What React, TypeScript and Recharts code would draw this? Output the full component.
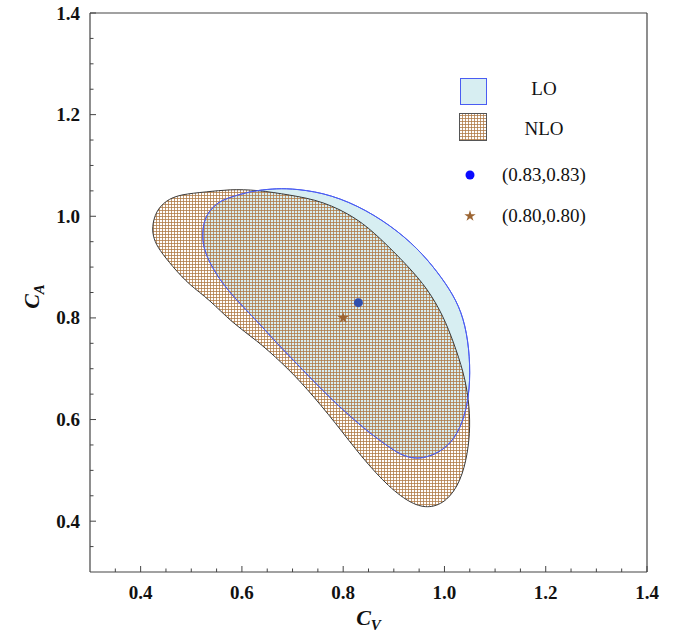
import React from 'react';
import { ComposedChart, Scatter, XAxis, YAxis, Legend, Label, Symbols } from 'recharts';

// LO allowed region (C_V, C_A), traced clockwise from the left edge
const loCv = [0.522, 0.525, 0.535, 0.551, 0.571, 0.62, 0.661, 0.694, 0.76, 0.828, 0.894, 0.947, 0.986, 1.018, 1.038, 1.049, 1.051, 1.044, 1.027, 0.999, 0.955, 0.92, 0.891, 0.837, 0.772, 0.719, 0.668, 0.628, 0.589, 0.555, 0.533, 0.524];
const loCa = [0.965, 0.99, 1.01, 1.026, 1.036, 1.05, 1.054, 1.055, 1.047, 1.022, 0.982, 0.937, 0.891, 0.845, 0.8, 0.74, 0.675, 0.62, 0.572, 0.539, 0.521, 0.527, 0.545, 0.585, 0.644, 0.699, 0.751, 0.796, 0.835, 0.876, 0.915, 0.94];

// NLO allowed region
const nloCv = [0.422, 0.43, 0.45, 0.477, 0.531, 0.576, 0.629, 0.694, 0.76, 0.828, 0.873, 0.927, 0.967, 0.998, 1.018, 1.038, 1.048, 1.051, 1.046, 1.032, 1.005, 0.971, 0.936, 0.891, 0.837, 0.786, 0.727, 0.68, 0.628, 0.581, 0.536, 0.496, 0.463, 0.436, 0.426];
const nloCa = [0.978, 1.01, 1.031, 1.043, 1.048, 1.053, 1.052, 1.042, 1.03, 0.996, 0.957, 0.903, 0.857, 0.803, 0.752, 0.693, 0.639, 0.586, 0.533, 0.478, 0.439, 0.425, 0.433, 0.466, 0.525, 0.592, 0.663, 0.711, 0.757, 0.79, 0.836, 0.865, 0.901, 0.935, 0.955];

const loBest = [{ x: 0.83, y: 0.83 }];
const nloBest = [{ x: 0.8, y: 0.8 }];

const axisTicks = [0.35, 0.4, 0.45, 0.5, 0.55, 0.6, 0.65, 0.7, 0.75, 0.8, 0.85, 0.9, 0.95, 1.0, 1.05, 1.1, 1.15, 1.2, 1.25, 1.3, 1.35, 1.4];

const loData = loCv.map((x, i) => ({ x, y: loCa[i] }));
const nloData = nloCv.map((x, i) => ({ x, y: nloCa[i] }));

const FONT = '"Liberation Serif", "Times New Roman", serif';
const LO_FILL = '#d7eef2';
const LO_STROKE = '#4a5cf2';
const NLO_STROKE = '#3a3a3a';
const FRAME = '#444';

const isMajor = (v: number) => Math.abs(v * 5 - Math.round(v * 5)) < 1e-6;

const BottomTick = ({ x, y, payload }: any) => {
  const major = isMajor(payload.value);
  return (
    <g>
      <line x1={x} y1={y} x2={x} y2={y - (major ? 6 : 3.5)} stroke={FRAME} />
      {major && (
        <text x={x} y={y + 27} textAnchor="middle" fontFamily={FONT} fontWeight="bold" fontSize={19} fill="#111">
          {payload.value.toFixed(1)}
        </text>
      )}
    </g>
  );
};

const TopTick = ({ x, y, payload }: any) => (
  <line x1={x} y1={y} x2={x} y2={y + (isMajor(payload.value) ? 6 : 3.5)} stroke={FRAME} />
);

const LeftTick = ({ x, y, payload }: any) => {
  const major = isMajor(payload.value);
  return (
    <g>
      <line x1={x} y1={y} x2={x + (major ? 6 : 3.5)} y2={y} stroke={FRAME} />
      {major && (
        <text x={x - 10} y={y + 6.5} textAnchor="end" fontFamily={FONT} fontWeight="bold" fontSize={19} fill="#111">
          {payload.value.toFixed(1)}
        </text>
      )}
    </g>
  );
};

const RightTick = ({ x, y, payload }: any) => (
  <line x1={x} y1={y} x2={x - (isMajor(payload.value) ? 6 : 3.5)} y2={y} stroke={FRAME} />
);

const XTitle = ({ viewBox }: any) => (
  <text x={viewBox.x + viewBox.width / 2} y={viewBox.y + 53} textAnchor="middle" fontFamily={FONT} fontWeight="bold" fontStyle="italic" fontSize={22} fill="#111">
    <tspan>C</tspan>
    <tspan fontSize={15} dy={5}>V</tspan>
  </text>
);

const YTitle = ({ viewBox }: any) => {
  const cx = viewBox.x + 29;
  const cy = viewBox.y + viewBox.height / 2 + 4;
  return (
    <text x={cx} y={cy} transform={`rotate(-90, ${cx}, ${cy})`} textAnchor="middle" fontFamily={FONT} fontWeight="bold" fontStyle="italic" fontSize={22} fill="#111">
      <tspan>C</tspan>
      <tspan fontSize={15} dy={5}>A</tspan>
    </text>
  );
};

const legendText = { fontFamily: FONT, fontSize: 19, fill: '#111', textAnchor: 'middle' as const };

const LegendBox = () => (
  <svg width={200} height={170} style={{ display: 'block' }}>
    <rect x={10.5} y={8.5} width={26} height={26} fill={LO_FILL} stroke={LO_STROKE} />
    <text x={94} y={25} {...legendText}>LO</text>
    <rect x={9.5} y={43.5} width={27} height={27} fill="url(#nloHatch)" stroke="#555" />
    <text x={94} y={65} {...legendText}>NLO</text>
    <circle cx={20} cy={105} r={4.5} fill="#0a0aff" />
    <text x={94} y={111} {...legendText}>(0.83,0.83)</text>
    <Symbols cx={20} cy={146} type="star" size={40} fill="#9c6533" />
    <text x={94} y={152} {...legendText}>(0.80,0.80)</text>
  </svg>
);

const noPoint = () => <g />;

export default function App() {
  return (
    <div style={{ position: 'absolute', left: 0, top: 0 }}>
      <svg width={0} height={0} style={{ position: 'absolute' }}>
        <defs>
          <pattern id="nloHatch" patternUnits="userSpaceOnUse" width={3} height={3}>
            <path d="M0 0.5H3M0.5 0V3" stroke="#b07a45" strokeWidth={1} strokeOpacity={0.78} />
          </pattern>
        </defs>
      </svg>
      <ComposedChart width={686} height={637} margin={{ top: 12, right: 38, bottom: 15, left: 10 }}>
        <XAxis
          type="number"
          dataKey="x"
          domain={[0.3, 1.4]}
          ticks={axisTicks}
          interval={0}
          tickSize={0}
          tickMargin={0}
          tickLine={false}
          tick={<BottomTick />}
          axisLine={{ stroke: FRAME, strokeWidth: 1.2 }}
          height={50}
          allowDataOverflow
        >
          <Label content={<XTitle />} />
        </XAxis>
        <XAxis
          xAxisId="top"
          orientation="top"
          type="number"
          domain={[0.3, 1.4]}
          ticks={axisTicks}
          interval={0}
          tickSize={0}
          tickMargin={0}
          tickLine={false}
          tick={<TopTick />}
          axisLine={{ stroke: FRAME, strokeWidth: 1.2 }}
          height={1}
        />
        <YAxis
          type="number"
          dataKey="y"
          domain={[0.3, 1.4]}
          ticks={axisTicks}
          interval={0}
          tickSize={0}
          tickMargin={0}
          tickLine={false}
          tick={<LeftTick />}
          axisLine={{ stroke: FRAME, strokeWidth: 1.2 }}
          width={80}
          allowDataOverflow
        >
          <Label content={<YTitle />} />
        </YAxis>
        <YAxis
          yAxisId="right"
          orientation="right"
          type="number"
          domain={[0.3, 1.4]}
          ticks={axisTicks}
          interval={0}
          tickSize={0}
          tickMargin={0}
          tickLine={false}
          tick={<RightTick />}
          axisLine={{ stroke: FRAME, strokeWidth: 1.2 }}
          width={1}
        />
        <Legend
          layout="vertical"
          align="center"
          verticalAlign="middle"
          wrapperStyle={{ left: 450, top: 70, width: 200 }}
          content={() => <LegendBox />}
        />
        <Scatter
          name="LO"
          data={loData}
          line={{ fill: LO_FILL, stroke: LO_STROKE, strokeWidth: 1 }}
          lineJointType="basisClosed"
          shape={noPoint}
          isAnimationActive={false}
        />
        <Scatter
          name="NLO"
          data={nloData}
          line={{ fill: 'url(#nloHatch)', stroke: NLO_STROKE, strokeWidth: 1 }}
          lineJointType="basisClosed"
          shape={noPoint}
          isAnimationActive={false}
        />
        <Scatter
          name="LO edge"
          data={loData}
          line={{ fill: 'none', stroke: LO_STROKE, strokeWidth: 1 }}
          lineJointType="basisClosed"
          shape={noPoint}
          isAnimationActive={false}
        />
        <Scatter
          name="(0.83,0.83)"
          data={loBest}
          shape={(p: any) => <circle cx={p.cx} cy={p.cy} r={4.5} fill="#2f4fae" />}
          isAnimationActive={false}
        />
        <Scatter
          name="(0.80,0.80)"
          data={nloBest}
          shape={(p: any) => <Symbols cx={p.cx} cy={p.cy} type="star" size={40} fill="#9c6533" />}
          isAnimationActive={false}
        />
      </ComposedChart>
    </div>
  );
}
